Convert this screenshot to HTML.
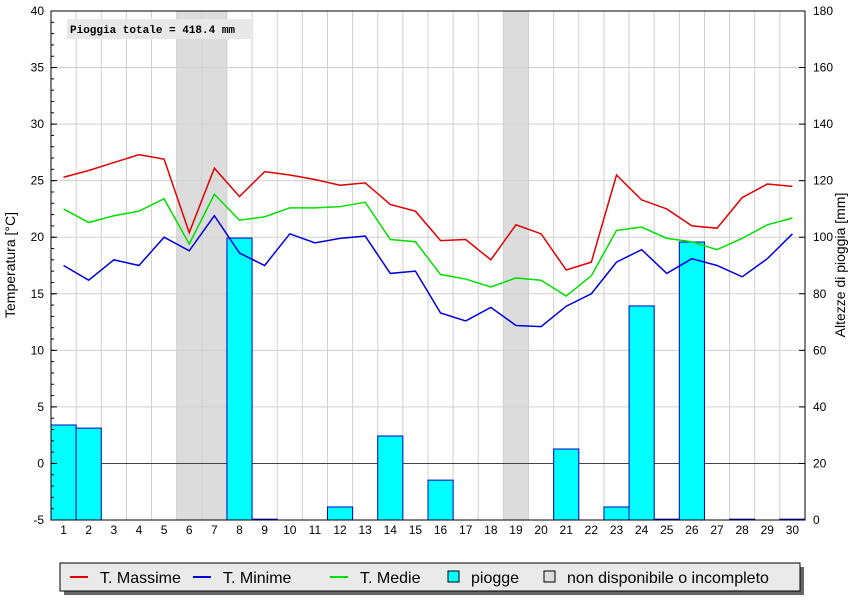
<!DOCTYPE html>
<html><head><meta charset="utf-8"><style>
body{margin:0;background:#fff;font-family:"Liberation Sans",sans-serif}
svg{display:block}
</style></head><body>
<svg id="c" width="865" height="600" xmlns="http://www.w3.org/2000/svg"></svg>
<script>
const days=[1,2,3,4,5,6,7,8,9,10,11,12,13,14,15,16,17,18,19,20,21,22,23,24,25,26,27,28,29,30];
const tMax=[25.3,25.9,26.6,27.3,26.9,20.4,26.1,23.6,25.8,25.5,25.1,24.6,24.8,22.9,22.3,19.7,19.8,18.0,21.1,20.3,17.1,17.8,25.5,23.3,22.5,21.0,20.8,23.5,24.7,24.5];
const tMin=[17.5,16.2,18.0,17.5,20.0,18.8,21.9,18.6,17.5,20.3,19.5,19.9,20.1,16.8,17.0,13.3,12.6,13.8,12.2,12.1,13.9,15.0,17.8,18.9,16.8,18.1,17.5,16.5,18.1,20.3];
const tMed=[22.5,21.3,21.9,22.3,23.4,19.4,23.8,21.5,21.8,22.6,22.6,22.7,23.1,19.8,19.6,16.7,16.3,15.6,16.4,16.2,14.8,16.6,20.6,20.9,19.9,19.6,18.9,19.9,21.1,21.7];
const rain=[33.6,32.5,0,0,0,0,0,99.7,0.3,0,0,4.6,0,29.7,0,14.1,0,0,0,0,25.1,0,4.6,75.7,0.3,98.3,0,0.3,0,0.3];
const missing=[6,7,19];
const leftTicks=[-5,0,5,10,15,20,25,30,35,40];
const rightTicks=[0,20,40,60,80,100,120,140,160,180];
const X0=51,X1=805,Y0=11,Y1=520,BW=(X1-X0)/30;
const xb=d=>X0+(d-1)*BW, xc=d=>X0+(d-0.5)*BW;
const yT=t=>Y1-(t+5)/45*(Y1-Y0);
const yR=r=>Y1-r/180*(Y1-Y0);
const svg=document.getElementById('c');const NS='http://www.w3.org/2000/svg';
function mk(tag,attrs,name,txt){const e=document.createElementNS(NS,tag);for(const k in attrs)e.setAttribute(k,attrs[k]);


if(txt!==undefined)e.textContent=txt;svg.appendChild(e);return e;}
mk('rect',{x:X0,y:Y0,width:X1-X0,height:Y1-Y0,fill:'#fff'},'plot-background');
missing.forEach(d=>mk('rect',{x:xb(d),y:Y0,width:BW,height:Y1-Y0,fill:'#dcdcdc'},'missing-day-band'));
for(let k=1;k<30;k++)mk('line',{x1:X0+k*BW,x2:X0+k*BW,y1:Y0,y2:Y1,stroke:'#d0d0d0'},'v-grid-line');
leftTicks.forEach(t=>mk('line',{x1:X0,x2:X1,y1:yT(t),y2:yT(t),stroke:'#d0d0d0'},'h-grid-line'));
mk('line',{x1:X0,x2:X1,y1:yT(0),y2:yT(0),stroke:'#444'},'zero-line');
rain.forEach((r,i)=>{if(r<=0)return;mk('rect',{x:xb(days[i]),y:yR(r),width:BW,height:Y1-yR(r),fill:'#00ffff',stroke:'#0000cc','stroke-width':1},'rain-bar-'+days[i]);});
function line(arr,col,name){mk('polyline',{points:arr.map((v,i)=>xc(days[i])+','+yT(v)).join(' '),fill:'none',stroke:col,'stroke-width':1.5},name);}
line(tMax,'#e00000','t-max-line');line(tMin,'#0000dd','t-min-line');line(tMed,'#00e000','t-med-line');
mk('rect',{x:X0,y:Y0,width:X1-X0,height:Y1-Y0,fill:'none',stroke:'#000'},'plot-border');
leftTicks.forEach(t=>{mk('line',{x1:X0,x2:X0+6,y1:yT(t),y2:yT(t),stroke:'#000'},'left-tick');
mk('text',{x:X0-7,y:yT(t)+4,'text-anchor':'end','font-size':12},'left-tick-label',t);});
for(let t=-5;t<40;t+=1)mk('line',{x1:X0,x2:X0+3,y1:yT(t),y2:yT(t),stroke:'#000'},'left-minor-tick');
rightTicks.forEach(r=>{mk('line',{x1:X1-6,x2:X1,y1:yR(r),y2:yR(r),stroke:'#000'},'right-tick');
mk('text',{x:X1+8,y:yR(r)+4,'font-size':12},'right-tick-label',r);});
days.forEach(d=>mk('text',{x:xc(d),y:534,'text-anchor':'middle','font-size':12},'x-tick-label',d));
mk('text',{x:15,y:265,'text-anchor':'middle','font-size':14,transform:'rotate(-90 15 265)'},'y-axis-title','Temperatura [°C]');
mk('text',{x:845,y:265,'text-anchor':'middle','font-size':14,transform:'rotate(-90 845 265)'},'y2-axis-title','Altezze di pioggia [mm]');
mk('rect',{x:67,y:19,width:184,height:20,fill:'#e8e8e8'},'total-box');
mk('text',{x:70,y:33,'font-size':11,'font-family':'Liberation Mono,monospace','font-weight':'bold'},'total-rain-label','Pioggia totale = 418.4 mm');
mk('rect',{x:64,y:567,width:740,height:28,fill:'#666'},'legend-shadow');
mk('rect',{x:60,y:563,width:740,height:28,fill:'#eaeaea',stroke:'#000'},'legend');
const L=[['line','#e00000','T. Massime',70],['line','#0000dd','T. Minime',193],['line','#00e000','T. Medie',330],['box','#00ffff','piogge',447],['box','#dcdcdc','non disponibile o incompleto',543]];
L.forEach(l=>{if(l[0]=='line')mk('line',{x1:l[3],x2:l[3]+18,y1:577,y2:577,stroke:l[1],'stroke-width':2},'legend-swatch');
else mk('rect',{x:l[3]+1,y:571,width:11,height:11,fill:l[1],stroke:'#000'},'legend-swatch');
mk('text',{x:l[3]+(l[0]=='line'?30:24),y:583,'font-size':16},'legend-entry',l[2]);});
</script>
</body></html>
